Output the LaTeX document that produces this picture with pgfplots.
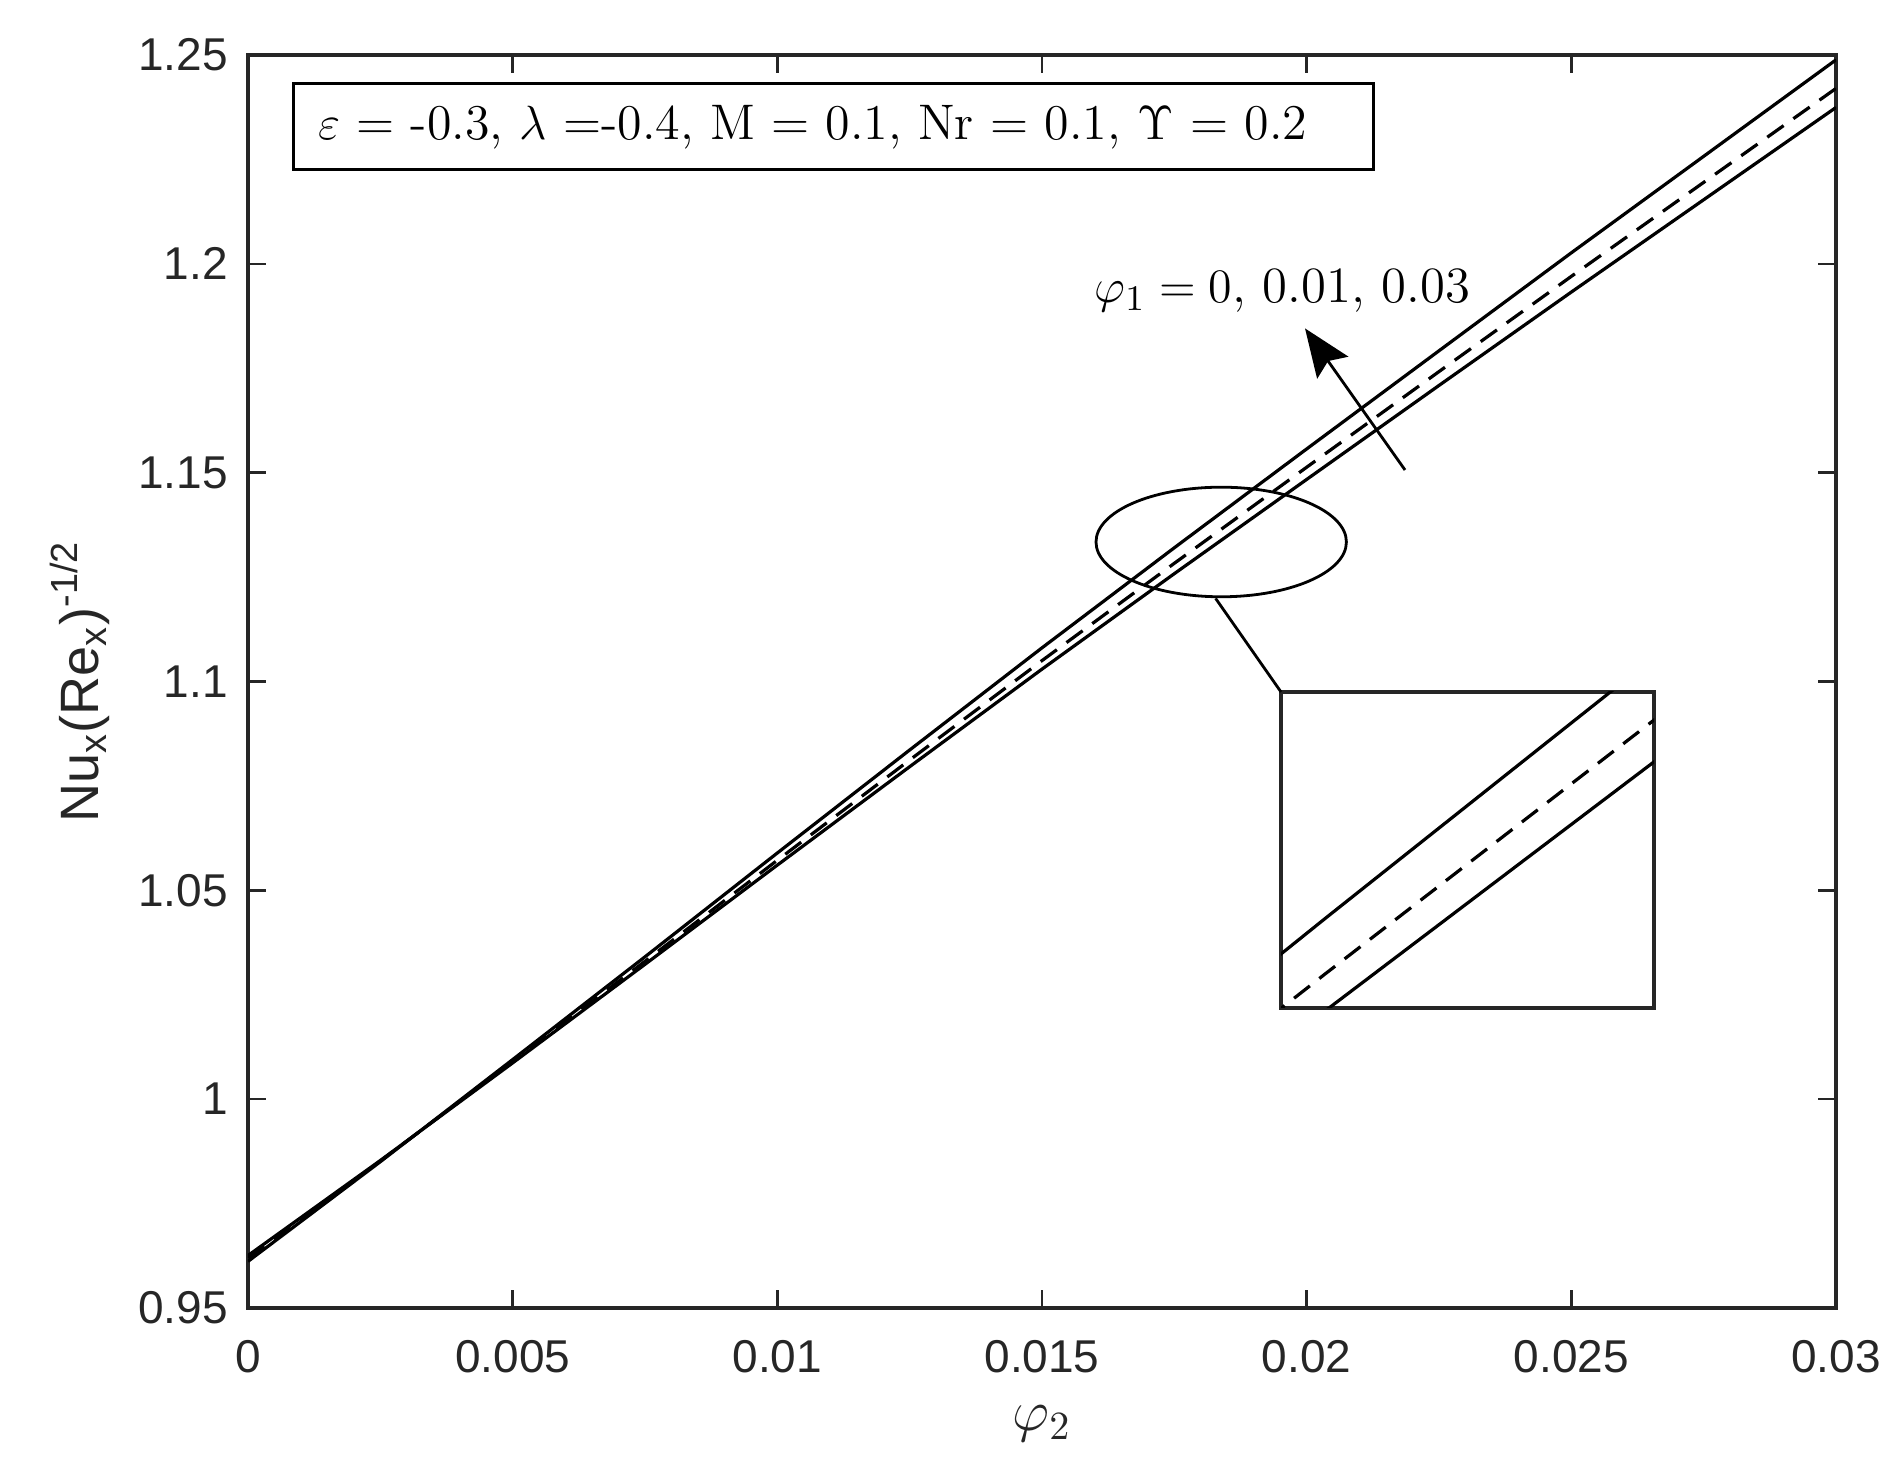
\documentclass[border=0pt]{standalone}
\usepackage{fontspec}
\setsansfont{Liberation Sans}
\usepackage{pgfplots}
\usepackage{pgfplotstable}
\pgfplotsset{compat=1.18}
\usetikzlibrary{arrows.meta}
\definecolor{axgray}{RGB}{38,38,38}

\pgfplotstableread{
x       A        D       C
0       0.96116  0.9620  0.96256
0.0025  0.98502  0.9852  0.98532
0.005   1.00948  1.0090  1.00868
0.0075  1.03408  1.0330  1.03228
0.01    1.05894  1.0572  1.05604
0.0125  1.08360  1.0812  1.07960
0.015   1.10806  1.1050  1.10296
0.0175  1.13202  1.1283  1.12582
0.02    1.15568  1.1513  1.14838
0.0225  1.17918  1.1742  1.17088
0.025   1.20264  1.1970  1.19324
0.0275  1.22574  1.2195  1.21534
0.03    1.24884  1.2420  1.23744
}\data

\begin{document}
\begin{tikzpicture}
\useasboundingbox (-62pt,-42.5pt) rectangle (414pt,327pt);
\begin{axis}[
  at={(0pt,0pt)}, anchor=south west, scale only axis,
  width=397pt, height=313.25pt,
  xmin=0, xmax=0.03, ymin=0.95, ymax=1.25,
  xtick={0,0.005,0.01,0.015,0.02,0.025,0.03},
  xticklabels={0,0.005,0.01,0.015,0.02,0.025,0.03},
  ytick={0.95,1,1.05,1.1,1.15,1.2,1.25},
  yticklabels={0.95,1,1.05,1.1,1.15,1.2,1.25},
  scaled x ticks=false, scaled y ticks=false,
  tick align=inside, major tick length=4.5pt,
  axis line style={line width=0.9pt, axgray},
  tick style={line width=0.6pt, axgray},
  ticklabel style={font=\sffamily\fontsize{11.5}{13}\selectfont, text=axgray},
  yticklabel style={xshift=-1.5pt},
  xticklabel style={yshift=-4.5pt},
  xlabel={$\varphi_2$},
  xlabel style={at={(rel axis cs:0.5,0)}, anchor=center, yshift=-29pt, inner sep=0pt, font=\fontsize{14}{16}\selectfont, text=axgray},
  ylabel={\sffamily Nu\textsubscript{x}(Re\textsubscript{x})\textsuperscript{-1/2}},
  ylabel style={at={(axis description cs:-0.106,0.5)}, anchor=center, font=\fontsize{13.5}{15}\selectfont, text=axgray},
]
\addplot[black, line width=0.8pt] table[x=x, y=A] {\data};
\addplot[black, line width=0.8pt, dash pattern=on 5pt off 3pt] table[x=x, y=D] {\data};
\addplot[black, line width=0.8pt] table[x=x, y=C] {\data};
\end{axis}

\begin{axis}[
  at={(258.25pt,75pt)}, anchor=south west, scale only axis,
  width=93.25pt, height=79pt,
  xmin=0.01725, xmax=0.01935, ymin=1.1260, ymax=1.1472,
  ticks=none,
  axis line style={line width=0.9pt, axgray},
  axis background/.style={fill=white},
]
\addplot[black, line width=0.8pt] table[x=x, y=A] {\data};
\addplot[black, line width=0.8pt, dash pattern=on 5pt off 3pt] table[x=x, y=D] {\data};
\addplot[black, line width=0.8pt] table[x=x, y=C] {\data};
\end{axis}

% annotations
\draw[line width=0.75pt, black] (11.25pt,284.5pt) rectangle (281.25pt,306pt);
\node[anchor=west, font=\fontsize{12.5}{14}\selectfont] at (14pt,295.25pt)
  {$\varepsilon$ = -0.3, $\lambda$ =-0.4, M = 0.1, Nr = 0.1, $\Upsilon$ = 0.2};
\node[font=\fontsize{12.7}{14}\selectfont] at (258.6pt,254.25pt) {$\varphi_1 = 0$, 0.01, 0.03};
\draw[line width=0.7pt, -{Stealth[length=12pt, width=9.5pt, inset=2pt]}] (289.25pt,209.5pt) -- (264.25pt,244.9pt);
\draw[line width=0.7pt] (243.3pt,191.5pt) ellipse [x radius=31.3pt, y radius=13.7pt];
\draw[line width=0.7pt] (241.9pt,177.4pt) -- (258.25pt,154pt);
\end{tikzpicture}
\end{document}
